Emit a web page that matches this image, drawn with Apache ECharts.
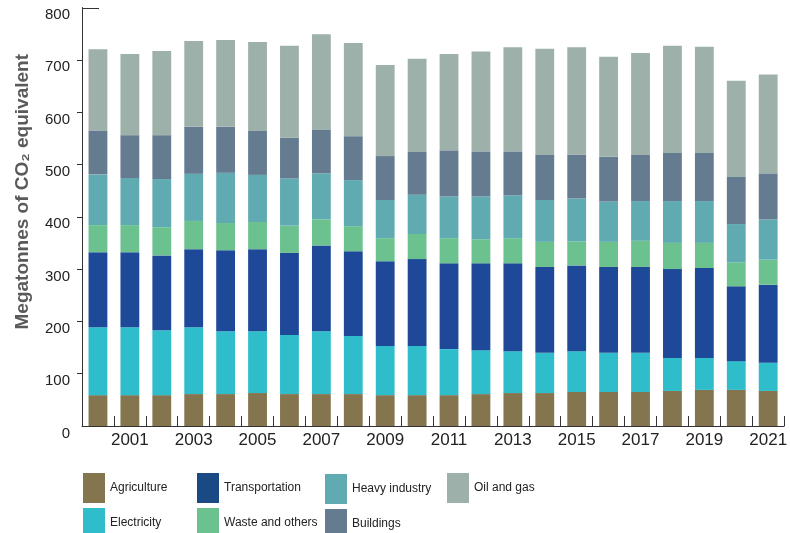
<!DOCTYPE html>
<html>
<head>
<meta charset="utf-8">
<script src="https://cdn.jsdelivr.net/npm/echarts@6/dist/echarts.min.js"></script>
<style>
html,body{margin:0;padding:0;background:#fff;}
#chart{width:790px;height:533px;}
</style>
</head>
<body>
<div id="chart"></div>
<script>
const years = ['2000','2001','2002','2003','2004','2005','2006','2007','2008','2009','2010','2011','2012','2013','2014','2015','2016','2017','2018','2019','2020','2021'];
const agriculture = [59,59,59,61,61,63,61,61,61,59,59,59,61,63,63,65,65,65,67,69,69,67];
const electricity = [130,130,124,128,120,118,113,120,111,94,94,88,84,80,77,78,75,75,63,61,55,54];
const transportation = [143,143,143,149,155,157,157,164,162,162,166,164,166,168,164,164,164,164,170,172,143,149];
const waste = [52,52,54,54,52,52,52,50,48,44,48,48,46,48,48,46,48,50,50,48,46,48];
const heavyIndustry = [97,90,92,90,96,90,90,88,88,73,75,80,82,82,80,82,77,76,80,80,73,77];
const buildings = [84,82,84,90,88,84,78,84,84,84,82,88,86,84,86,84,86,88,92,92,90,88];
const oilAndGas = [155,155,161,164,166,170,176,182,178,174,178,184,191,199,203,205,191,195,205,203,184,189];
const yLabelValues = [0,100,200,300,400,500,600,700,800];
const yTickValues = [100,200,300,400,500,600,700];

const SANS = '"Liberation Sans",Arial,sans-serif';

const seriesDefs = [
  {name:'Agriculture', data:agriculture, color:'#85754F'},
  {name:'Electricity', data:electricity, color:'#2FBDCB'},
  {name:'Transportation', data:transportation, color:'#1E4898', legendColor:'#1A4A84'},
  {name:'Waste and others', data:waste, color:'#6CC28E'},
  {name:'Heavy industry', data:heavyIndustry, color:'#60AAB1'},
  {name:'Buildings', data:buildings, color:'#657C90'},
  {name:'Oil and gas', data:oilAndGas, color:'#9EB0AA'}
];

const legendPos = {
  'Agriculture':[78,468],
  'Electricity':[78,503],
  'Transportation':[192,468],
  'Waste and others':[192,503],
  'Heavy industry':[320,469],
  'Buildings':[320,504],
  'Oil and gas':[442,468]
};

const chart = echarts.init(document.getElementById('chart'), null, {renderer:'canvas'});

const legends = seriesDefs.map(s => ({
  data:[{name:s.name, itemStyle:{color:s.legendColor || s.color}}],
  left:legendPos[s.name][0],
  top:legendPos[s.name][1],
  icon:'rect',
  itemWidth:22,
  itemHeight:30,
  selectedMode:false,
  textStyle:{fontFamily:SANS, fontSize:12, color:'#222'}
}));

const option = {
  animation:false,
  backgroundColor:'#fff',
  grid:{left:82, right:2, top:7.5, bottom:107, containLabel:false},
  legend:legends,
  xAxis:{
    type:'category',
    data:years,
    boundaryGap:true,
    axisLine:{show:true, lineStyle:{color:'#333', width:1}},
    axisTick:{show:true, inside:true, length:10, interval:0, alignWithLabel:false, lineStyle:{color:'#333'}},
    axisLabel:{
      interval:function(i){return i % 2 === 1;},
      margin:6,
      fontFamily:SANS, fontSize:17, color:'#222'
    },
    splitLine:{show:false}
  },
  yAxis:{
    type:'value',
    min:0, max:800, interval:100,
    name:'Megatonnes of CO\u2082 equivalent',
    nameLocation:'middle',
    nameRotate:90,
    nameGap:50,
    nameTextStyle:{fontFamily:SANS, fontWeight:'bold', fontSize:19, color:'#5a5a5a', padding:[0,0,0,50]},
    axisLine:{show:true, lineStyle:{color:'#333', width:1}},
    axisTick:{show:true, length:5, customValues:yTickValues, lineStyle:{color:'#333'}},
    axisLabel:{
      margin:12,
      customValues:yLabelValues,
      verticalAlign:'top',
      fontFamily:SANS, fontSize:15, color:'#222'
    },
    splitLine:{show:false}
  },
  series:seriesDefs.map(s => ({
    name:s.name,
    type:'bar',
    stack:'total',
    data:s.data,
    barCategoryGap:'41%',
    itemStyle:{color:s.color},
    emphasis:{disabled:true}
  }))
};

chart.setOption(option);

const y800 = chart.convertToPixel({yAxisIndex:0}, 800);
const xLeft = 82;
chart.setOption({
  graphic:[{
    type:'line',
    shape:{x1:xLeft, y1:Math.round(y800)+0.5, x2:xLeft+17, y2:Math.round(y800)+0.5},
    style:{stroke:'#333', lineWidth:1},
    silent:true
  }]
});
</script>
</body>
</html>
